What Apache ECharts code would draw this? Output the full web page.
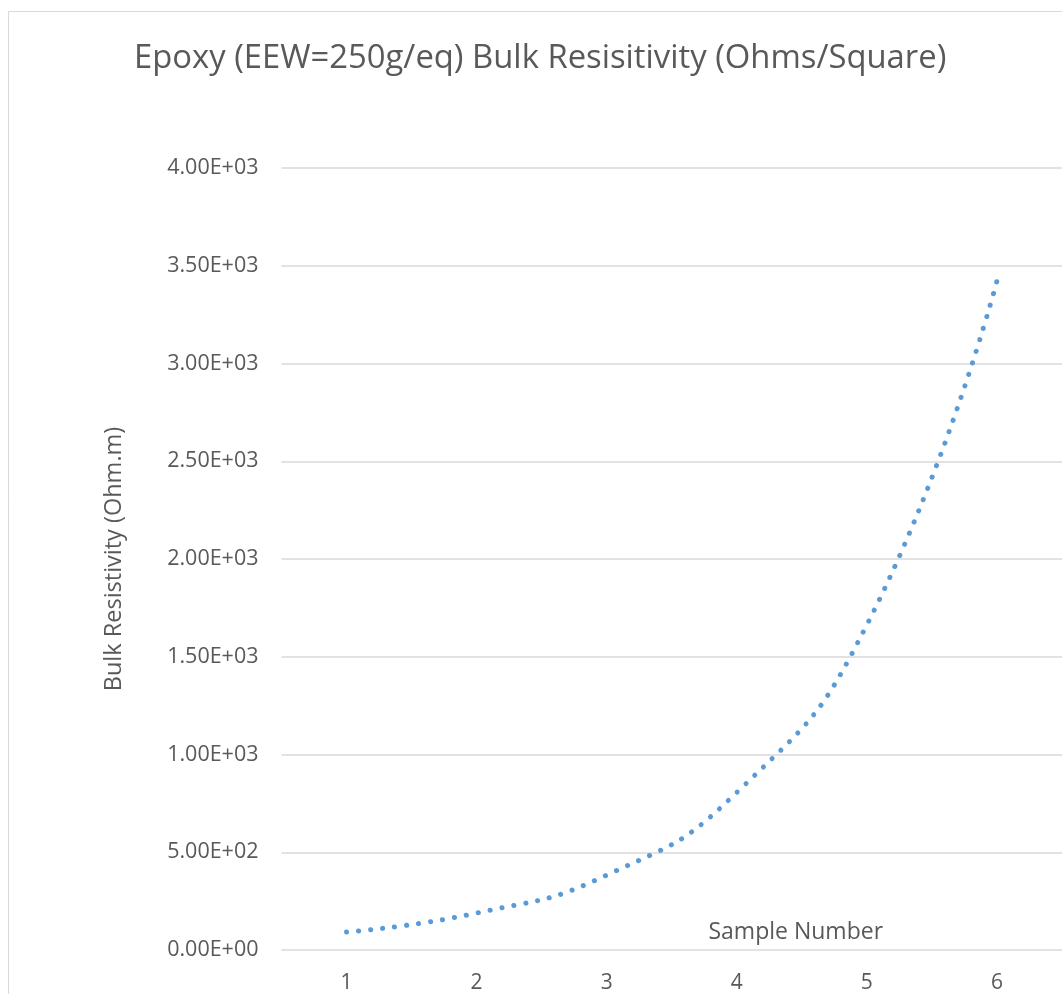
<!DOCTYPE html>
<html>
<head>
<meta charset="utf-8">
<script src="https://cdn.jsdelivr.net/npm/echarts@6/dist/echarts.min.js"></script>
<style>
html,body{margin:0;padding:0;background:#fff;overflow:hidden;}
#chart{width:1062px;height:994px;}
</style>
</head>
<body>
<div id="chart"></div>
<script>
var titleText = 'Epoxy (EEW=250g/eq) Bulk Resisitivity (Ohms/Square)';
var xAxisTitle = 'Sample Number';
var yAxisTitle = 'Bulk Resistivity (Ohm.m)';
var categories = ['1', '2', '3', '4', '5', '6'];
var resistivity = [92, 189, 383, 806, 1663, 3423];
var yTicks = [0, 500, 1000, 1500, 2000, 2500, 3000, 3500, 4000];

var font = '"Open Sans", "Noto Sans", sans-serif';
var chart = echarts.init(document.getElementById('chart'), null, {renderer: 'canvas'});
chart.setOption({
  backgroundColor: '#ffffff',
  animation: false,
  graphic: [{
    type: 'rect',
    shape: {x: 8.5, y: 11.5, width: 1200, height: 1200},
    style: {fill: 'none', stroke: '#d9d9d9', lineWidth: 1},
    silent: true, z: -1
  }],
  title: {
    text: titleText,
    left: 129,
    top: 37,
    textStyle: {fontFamily: font, fontSize: 32.8, fontWeight: 'normal', color: '#595959'}
  },
  grid: {left: 281.5, right: -4.5, top: 168, bottom: 43, containLabel: false},
  xAxis: {
    type: 'category',
    data: categories,
    boundaryGap: true,
    name: xAxisTitle,
    nameLocation: 'middle',
    nameGap: -29,
    nameTextStyle: {fontFamily: font, fontSize: 23, color: '#595959', padding: [0, 0, 0, 248]},
    axisLine: {show: false},
    axisTick: {show: false},
    axisLabel: {fontFamily: font, fontSize: 21, color: '#595959', margin: 23},
    splitLine: {show: false}
  },
  yAxis: {
    type: 'value',
    min: yTicks[0],
    max: yTicks[yTicks.length - 1],
    interval: 500,
    name: yAxisTitle,
    nameLocation: 'middle',
    nameGap: 155,
    nameTextStyle: {fontFamily: font, fontSize: 23.5, color: '#595959'},
    axisLine: {show: false},
    axisTick: {show: false},
    axisLabel: {
      fontFamily: font, fontSize: 21.5, color: '#595959', margin: 23,
      formatter: function (v) {
        var e = v === 0 ? 0 : Math.floor(Math.log10(v));
        var m = (v / Math.pow(10, e)).toFixed(2);
        var es = (e < 10 ? '0' : '') + e;
        return m + 'E+' + es;
      }
    },
    splitLine: {lineStyle: {color: '#d9d9d9', width: 1.5}}
  },
  series: [{
    type: 'line',
    data: resistivity,
    smooth: true,
    showSymbol: false,
    symbol: 'none',
    lineStyle: {color: '#5b9bd5', width: 5, type: [0.1, 12], cap: 'round'}
  }]
});
</script>
</body>
</html>
